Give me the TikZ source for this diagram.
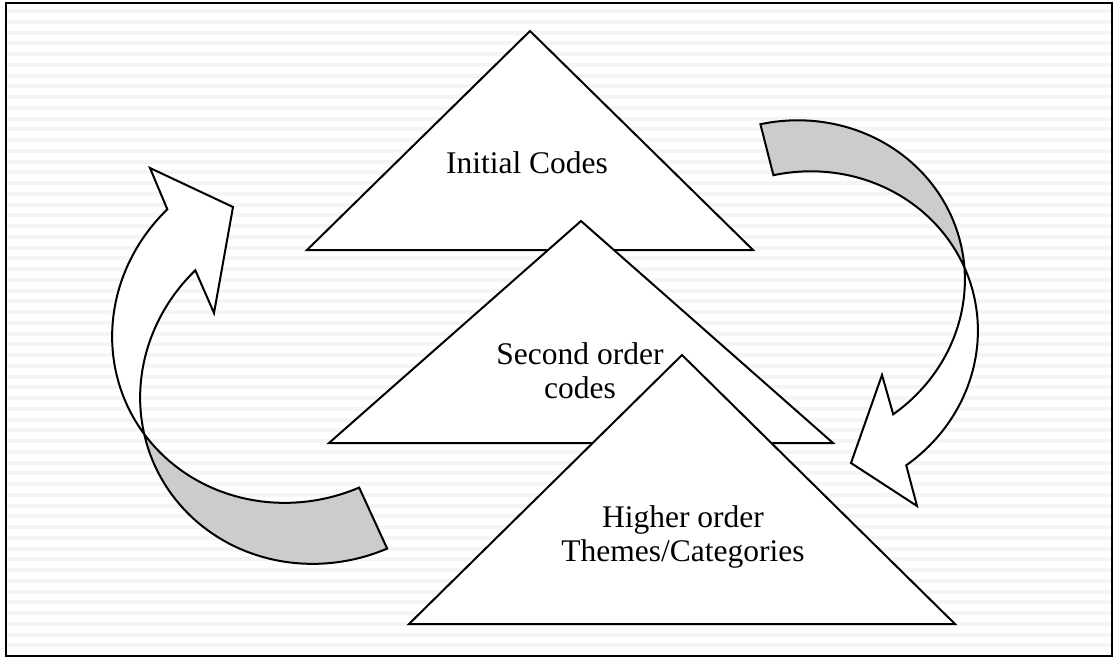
\documentclass[tikz,border=0pt]{standalone}
\usepackage{fontspec}
\setmainfont{Liberation Serif}
\definecolor{stripe}{RGB}{245,245,245}
\definecolor{ribbongray}{RGB}{204,204,204}
\tikzset{
  outline/.style={draw=black,line width=1pt,line join=miter},
  tritext/.style={font=\fontsize{15.75}{17}\selectfont,align=center}
}
% ribbon arrows: two equal tilted ellipse arcs and the head
\newcommand\ribbonL{plot[domain=91.7:249.5,samples=60,smooth] ({292.4+165.4*cos(\x)+71.7*sin(\x)},{329.1-75.9*cos(\x)+156.3*sin(\x)})
  -- (150,168) -- (233,207) -- (214,313)
  -- plot[domain=249.5:91.7,samples=60,smooth] ({320.4+165.4*cos(\x)+71.7*sin(\x)},{390.1-75.9*cos(\x)+156.3*sin(\x)}) -- cycle}
\newcommand\ribbonR{plot[domain=-87.5:68,samples=60,smooth] ({793.4+166.7*cos(\x)+40.3*sin(\x)},{283.8-42.5*cos(\x)+157.9*sin(\x)})
  -- (882,375) -- (851,463) -- (917,506)
  -- plot[domain=68:-87.5,samples=60,smooth] ({806.4+166.7*cos(\x)+40.3*sin(\x)},{334.8-42.5*cos(\x)+157.9*sin(\x)}) -- cycle}
\begin{document}
\begin{tikzpicture}[x=0.5pt,y=-0.5pt]
  \useasboundingbox (0,0) rectangle (1118,660);
  % background
  \fill[white] (0,0) rectangle (1118,660);
  \foreach \y in {0,...,59}{%
    \fill[stripe] (7,{9+10.75*\y}) rectangle (1111,{13+10.75*\y});
  }
  \draw[line width=1pt] (6,3) rectangle (1112,656);
  % triangles
  \foreach \ax/\ay/\w/\h in {530/31/223/219,581/221/252/222,682/355/273/269}{%
    \draw[outline,fill=white] (\ax,\ay) -- ++(\w,\h) -- ++(-2*\w,0) -- cycle;
  }
  \node[tritext] (initial) at (527,163) {Initial Codes};
  \node[tritext] (second) at (580,371) {Second order\\codes};
  \node[tritext] (higher) at (683,537) {Higher order\\Themes/Categories};
  % left arrow
  \fill[white] \ribbonL;
  \begin{scope}
    \clip (508,267) -- (675,631) -- (-53,965) -- (-220,601) -- cycle;
    \fill[ribbongray] \ribbonL;
  \end{scope}
  \draw[outline] \ribbonL;
  % right arrow
  \fill[white] \ribbonR;
  \begin{scope}
    \clip (1352.5,168.4) -- (576.5,366.4) -- (477.5,-21.6) -- (1253.5,-219.6) -- cycle;
    \fill[ribbongray] \ribbonR;
  \end{scope}
  \draw[outline] \ribbonR;
\end{tikzpicture}
\end{document}
